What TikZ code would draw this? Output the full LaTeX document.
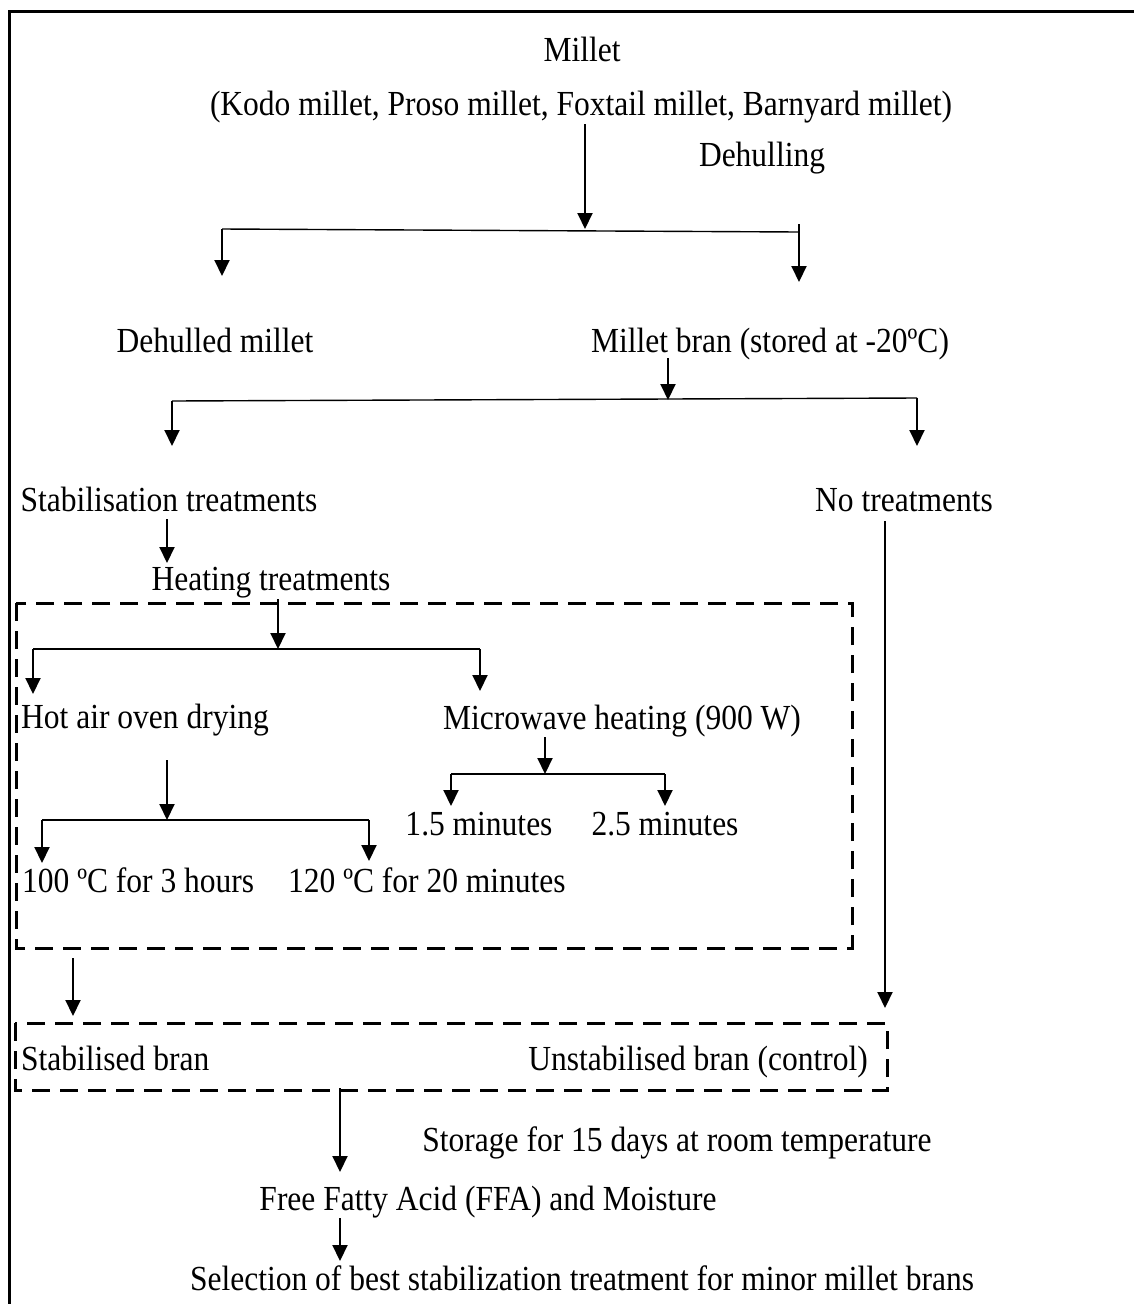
\documentclass[tikz,border=0pt]{standalone}
\usepackage{fontspec}
\setmainfont{Liberation Serif}[FakeStretch=0.895]
\usetikzlibrary{arrows.meta}
\begin{document}
\begin{tikzpicture}[x=1pt,y=-1pt,
  txt/.style={inner sep=0pt,anchor=base,font=\fontsize{35.2}{40}\selectfont},
  arr/.style={line width=2pt,-{Triangle[width=15pt,length=16pt]}},
  hline/.style={line width=1.4pt},
  dbox/.style={line width=3pt,dash pattern=on 18pt off 10pt},
  frame/.style={line width=3pt}]
\useasboundingbox (0,0) rectangle (1133,1304);
\fill[white] (0,0) rectangle (1133,1304);
% outer frame (only top and left visible)
\draw[frame] (9,1320) -- (9,11) -- (1150,11);

% texts
\node[txt] (millet) at (582,61) {Millet};
\node[txt] (kinds) at (581,115) {(Kodo millet, Proso millet, Foxtail millet, Barnyard millet)};
\node[txt] (dehull) at (762,166) {Dehulling};
\node[txt] (dmillet) at (215,352) {Dehulled millet};
\node[txt] (bran) at (770,352) {Millet bran (stored at -20ºC)};
\node[txt] (stab) at (169,511) {Stabilisation treatments};
\node[txt] (notr) at (904,511) {No treatments};
\node[txt] (heat) at (271,590) {Heating treatments};
\node[txt,anchor=base west] (oven) at (21,728) {Hot air oven drying};
\node[txt] (micro) at (622,729) {Microwave heating (900 W)};
\node[txt] (m15) at (479,835) {1.5 minutes};
\node[txt] (m25) at (665,835) {2.5 minutes};
\node[txt,anchor=base west] (t100) at (22,892) {100 ºC for 3 hours};
\node[txt,anchor=base west] (t120) at (288,892) {120 ºC for 20 minutes};
\node[txt,anchor=base west] (sbran) at (21,1070) {Stabilised bran};
\node[txt,anchor=base east] (ubran) at (868,1070) {Unstabilised bran (control)};
\node[txt] (store) at (677,1151) {Storage for 15 days at room temperature};
\node[txt] (ffa) at (488,1210) {Free Fatty Acid (FFA) and Moisture};
\node[txt] (sel) at (582,1290) {Selection of best stabilization treatment for minor millet brans};

% dashed boxes
\draw[dbox] (16,603) rectangle (852,948);
\draw[dbox] (15,1023) rectangle (887,1090);

% junction coordinates
\coordinate (a1s) at (585,124); \coordinate (a1e) at (585,229);
\coordinate (h1l) at (222,229); \coordinate (h1r) at (799,232);
\coordinate (h1t) at (799,224);
\coordinate (dme) at (222,276); \coordinate (bre) at (799,282);
\coordinate (a2s) at (668,358); \coordinate (a2e) at (668,400);
\coordinate (h2l) at (172,401); \coordinate (h2r) at (917,398);
\coordinate (ste) at (172,446); \coordinate (nte) at (917,446);
\coordinate (a3s) at (167,519); \coordinate (a3e) at (167,563);
\coordinate (a4s) at (278,599); \coordinate (a4e) at (278,649);
\coordinate (h3l) at (33,649); \coordinate (h3r) at (480,649);
\coordinate (ove) at (33,694); \coordinate (mie) at (480,691);
\coordinate (a5s) at (545,737); \coordinate (a5e) at (545,774);
\coordinate (h4l) at (451,774); \coordinate (h4r) at (665,774);
\coordinate (m15e) at (451,806); \coordinate (m25e) at (665,806);
\coordinate (a6s) at (167,760); \coordinate (a6e) at (167,820);
\coordinate (h5l) at (42,820); \coordinate (h5r) at (369,820);
\coordinate (t100e) at (42,863); \coordinate (t120e) at (369,861);
\coordinate (a7s) at (73,958); \coordinate (a7e) at (73,1016);
\coordinate (a8s) at (885,521); \coordinate (a8e) at (885,1008);
\coordinate (a9s) at (340,1088); \coordinate (a9e) at (340,1172);
\coordinate (a10s) at (340,1218); \coordinate (a10e) at (340,1261);

% connectors
\draw[arr] (a1s) -- (a1e);
\draw[hline] (h1l) -- (h1r);
\draw[arr] (h1l) -- (dme);
\draw[arr] (h1t) -- (bre);
\draw[arr] (a2s) -- (a2e);
\draw[hline] (h2l) -- (h2r);
\draw[arr] (h2l) -- (ste);
\draw[arr] (h2r) -- (nte);
\draw[arr] (a3s) -- (a3e);
\draw[arr] (a4s) -- (a4e);
\draw[hline] (h3l) -- (h3r);
\draw[arr] (h3l) -- (ove);
\draw[arr] (h3r) -- (mie);
\draw[arr] (a5s) -- (a5e);
\draw[hline] (h4l) -- (h4r);
\draw[arr] (h4l) -- (m15e);
\draw[arr] (h4r) -- (m25e);
\draw[arr] (a6s) -- (a6e);
\draw[hline] (h5l) -- (h5r);
\draw[arr] (h5l) -- (t100e);
\draw[arr] (h5r) -- (t120e);
\draw[arr] (a7s) -- (a7e);
\draw[arr] (a8s) -- (a8e);
\draw[arr] (a9s) -- (a9e);
\draw[arr] (a10s) -- (a10e);
\end{tikzpicture}
\end{document}
